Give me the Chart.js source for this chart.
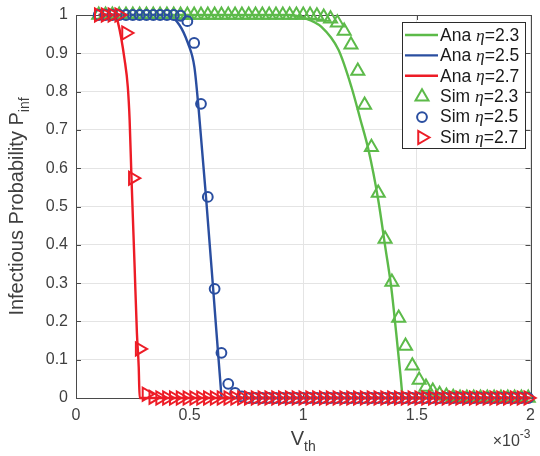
<!DOCTYPE html>
<html>
<head>
<meta charset="utf-8">
<script src="https://cdn.jsdelivr.net/npm/chart.js@4.4.1/dist/chart.umd.min.js"></script>
<style>
  html, body { margin: 0; padding: 0; background: #fff; }
  #wrap { width: 540px; height: 456px; }
</style>
</head>
<body>
<div id="wrap"><canvas id="chart" width="540" height="456"></canvas></div>
<script>
// V_th is kept in units of 1e-3 (axis carries the x10^-3 multiplier)
const xTicks = [0, 0.5, 1, 1.5, 2];
const yTicks = [0, 0.1, 0.2, 0.3, 0.4, 0.5, 0.6, 0.7, 0.8, 0.9, 1];

// analytical curves
const anaX23 = [0.1, 0.94, 1.0, 1.08, 1.155, 1.212, 1.252, 1.287, 1.33, 1.361, 1.387, 1.409, 1.427, 1.44, 2.0];
const anaP23 = [1, 1, 0.993, 0.969, 0.909, 0.812, 0.726, 0.648, 0.517, 0.394, 0.29, 0.17, 0.065, 0, 0];
const anaX25 = [0.1, 0.4, 0.455, 0.492, 0.521, 0.54, 0.572, 0.605, 0.638, 0.641, 2.0];
const anaP25 = [1, 1, 0.974, 0.927, 0.864, 0.752, 0.525, 0.274, 0.02, 0, 0];
const anaX27 = [0.1, 0.17, 0.184, 0.214, 0.228, 0.236, 0.244, 0.258, 0.268, 0.276, 0.28, 2.0];
const anaP27 = [1, 1, 0.982, 0.883, 0.812, 0.726, 0.577, 0.342, 0.17, 0.081, 0, 0];

// simulation grid and results
const simX = [0.10, 0.13, 0.16, 0.19, 0.22, 0.25, 0.28, 0.31, 0.34, 0.37, 0.40, 0.43, 0.46, 0.49, 0.52, 0.55,
  0.58, 0.61, 0.64, 0.67, 0.70, 0.73, 0.76, 0.79, 0.82, 0.85, 0.88, 0.91, 0.94, 0.97, 1.00, 1.03,
  1.06, 1.09, 1.12, 1.15, 1.18, 1.21, 1.24, 1.27, 1.30, 1.33, 1.36, 1.39, 1.42, 1.45, 1.48, 1.51,
  1.54, 1.57, 1.60, 1.63, 1.66, 1.69, 1.72, 1.75, 1.78, 1.81, 1.84, 1.87, 1.90, 1.93, 1.96, 1.99];
const simP23 = [1, 1, 1, 1, 1, 1, 1, 1, 1, 1, 1, 1, 1, 1, 1, 1,
  1, 1, 1, 1, 1, 1, 1, 1, 1, 1, 1, 1, 1, 1, 1, 1,
  0.998, 0.995, 0.99, 0.98, 0.958, 0.922, 0.854, 0.765, 0.655, 0.535, 0.415, 0.303, 0.209, 0.136, 0.084, 0.047,
  0.029, 0.018, 0.01, 0.005, 0.002, 0, 0, 0, 0, 0, 0, 0, 0, 0, 0, 0];
const simP25 = [1, 1, 1, 1, 1, 1, 1, 1, 1, 1, 1, 1, 0.998, 0.984, 0.927, 0.768,
  0.525, 0.285, 0.118, 0.037, 0.013, 0.004, 0, 0, 0, 0, 0, 0, 0, 0, 0, 0,
  0, 0, 0, 0, 0, 0, 0, 0, 0, 0, 0, 0, 0, 0, 0, 0,
  0, 0, 0, 0, 0, 0, 0, 0, 0, 0, 0, 0, 0, 0, 0, 0];
const simP27 = [1, 1, 1, 1, 0.953, 0.574, 0.128, 0.01, 0.002, 0, 0, 0, 0, 0, 0, 0,
  0, 0, 0, 0, 0, 0, 0, 0, 0, 0, 0, 0, 0, 0, 0, 0,
  0, 0, 0, 0, 0, 0, 0, 0, 0, 0, 0, 0, 0, 0, 0, 0,
  0, 0, 0, 0, 0, 0, 0, 0, 0, 0, 0, 0, 0, 0, 0, 0];

const legendKinds = ['Ana', 'Ana', 'Ana', 'Sim', 'Sim', 'Sim'];
const legendEta = ['2.3', '2.5', '2.7', '2.3', '2.5', '2.7'];

const GREEN = '#5cba49';
const BLUE = '#2a4ea0';
const RED = '#ed1c26';
const TEXT = '#3f3f3f';
const AXIS = '#4a4a4a';
const GRID = '#e4e4e4';
const FONT = '"Liberation Sans", Arial, Helvetica, sans-serif';

const pts = (xs, ys) => xs.map((x, i) => ({ x: x, y: ys[i] }));

function anaSet(label, xs, ys, color, order) {
  return {
    label: label, data: pts(xs, ys), borderColor: color, borderWidth: 2.4,
    pointRadius: 0, cubicInterpolationMode: 'monotone', fill: false, clip: false, order: order
  };
}
function simSet(label, xs, ys, color, style, radius, rot, order) {
  return {
    label: label, data: pts(xs, ys), showLine: false, borderColor: color,
    pointStyle: style, pointRadius: radius, pointRotation: rot, pointBorderWidth: 2,
    pointBackgroundColor: 'rgba(0,0,0,0)', pointBorderColor: color, clip: false, order: order
  };
}

const datasets = [
  anaSet('Ana η=2.3', anaX23, anaP23, GREEN, 5),
  anaSet('Ana η=2.5', anaX25, anaP25, BLUE, 4),
  anaSet('Ana η=2.7', anaX27, anaP27, RED, 3),
  simSet('Sim η=2.3', simX, simP23, GREEN, 'triangle', 7.5, 0, 2),
  simSet('Sim η=2.5', simX, simP25, BLUE, 'circle', 4.9, 0, 1),
  simSet('Sim η=2.7', simX, simP27, RED, 'triangle', 7.5, 90, 0)
];

function marker(ctx, style, rot, r, x, y) {
  ctx.beginPath();
  if (style === 'circle') {
    ctx.arc(x, y, r, 0, Math.PI * 2);
  } else {
    let a = rot * Math.PI / 180;
    for (let k = 0; k < 3; k++) {
      const px = x + Math.sin(a) * r, py = y - Math.cos(a) * r;
      if (k === 0) ctx.moveTo(px, py); else ctx.lineTo(px, py);
      a += 2 * Math.PI / 3;
    }
    ctx.closePath();
  }
  ctx.stroke();
}

// text with a lowered / raised small part
function drawSubText(ctx, main, small, x, y, size, shift, align) {
  ctx.font = size + 'px ' + FONT;
  const w1 = ctx.measureText(main).width;
  ctx.font = Math.round(size * 0.72) + 'px ' + FONT;
  const w2 = ctx.measureText(small).width;
  let x0 = x;
  if (align === 'center') x0 = x - (w1 + w2) / 2;
  if (align === 'right') x0 = x - (w1 + w2);
  ctx.textAlign = 'left';
  ctx.textBaseline = 'alphabetic';
  ctx.font = size + 'px ' + FONT;
  ctx.fillText(main, x0, y);
  ctx.font = Math.round(size * 0.72) + 'px ' + FONT;
  ctx.fillText(small, x0 + w1, y + shift);
}

const framePlugin = {
  id: 'frame',
  beforeDatasetsDraw(chart) {
    const { ctx, chartArea: a, scales } = chart;
    ctx.save();
    ctx.strokeStyle = AXIS;
    ctx.lineWidth = 1;
    ctx.strokeRect(Math.round(a.left) + 0.5, Math.round(a.top) + 0.5,
      Math.round(a.right - a.left), Math.round(a.bottom - a.top));
    ctx.beginPath();
    xTicks.forEach(v => {
      const px = Math.round(scales.x.getPixelForValue(v)) + 0.5;
      ctx.moveTo(px, a.bottom); ctx.lineTo(px, a.bottom - 5);
      ctx.moveTo(px, a.top); ctx.lineTo(px, a.top + 5);
    });
    yTicks.forEach(v => {
      const py = Math.round(scales.y.getPixelForValue(v)) + 0.5;
      ctx.moveTo(a.left, py); ctx.lineTo(a.left + 5, py);
      ctx.moveTo(a.right, py); ctx.lineTo(a.right - 5, py);
    });
    ctx.stroke();
    ctx.restore();
  },
  afterDraw(chart) {
    const { ctx, chartArea: a } = chart;
    ctx.save();
    ctx.fillStyle = TEXT;
    // x title V_th
    drawSubText(ctx, 'V', 'th', (a.left + a.right) / 2, 445, 20, 6, 'center');
    // multiplier
    drawSubText(ctx, '×10', '-3', a.right, 446, 16, -8, 'right');
    // y title
    ctx.translate(23, (a.top + a.bottom) / 2);
    ctx.rotate(-Math.PI / 2);
    drawSubText(ctx, 'Infectious Probability P', 'inf', 0, 0, 20, 6, 'center');
    ctx.restore();

    // legend box
    const bx = 402, by = 22, bw = 123, bh = 126;
    ctx.save();
    ctx.fillStyle = '#fff';
    ctx.fillRect(bx, by, bw, bh);
    ctx.strokeStyle = '#2b2b2b';
    ctx.lineWidth = 1;
    ctx.strokeRect(bx + 0.5, by + 0.5, bw, bh);
    chart.data.datasets.forEach((ds, i) => {
      const y = by + 13 + i * 20.4;
      ctx.strokeStyle = ds.borderColor;
      if (legendKinds[i] === 'Ana') {
        ctx.lineWidth = 2.4;
        ctx.beginPath();
        ctx.moveTo(405, y); ctx.lineTo(438, y);
        ctx.stroke();
      } else {
        ctx.lineWidth = 2;
        marker(ctx, ds.pointStyle, ds.pointRotation, ds.pointRadius, 422, y + 0.5);
      }
      ctx.fillStyle = '#1a1a1a';
      ctx.textBaseline = 'middle';
      ctx.textAlign = 'left';
      let tx = 440;
      ctx.font = '17.5px ' + FONT;
      const t1 = legendKinds[i] + ' ';
      ctx.fillText(t1, tx, y + 1);
      tx += ctx.measureText(t1).width;
      ctx.font = 'italic 17.5px "Liberation Serif", "DejaVu Serif", serif';
      ctx.fillText('η', tx, y + 1);
      tx += ctx.measureText('η').width;
      ctx.font = '17.5px ' + FONT;
      ctx.fillText('=' + legendEta[i], tx, y + 1);
    });
    ctx.restore();
  }
};

new Chart(document.getElementById('chart'), {
  type: 'line',
  data: { datasets: datasets },
  plugins: [framePlugin],
  options: {
    responsive: false,
    animation: false,
    layout: { padding: { top: 15, right: 7, left: 0, bottom: 0 } },
    plugins: { legend: { display: false }, tooltip: { enabled: false } },
    scales: {
      x: {
        type: 'linear', min: 0, max: 2,
        afterBuildTicks: s => { s.ticks = xTicks.map(v => ({ value: v })); },
        afterFit: s => { s.height = 58; s.paddingLeft = 0; s.paddingRight = 0; },
        grid: { color: GRID, drawTicks: false },
        border: { display: false },
        ticks: {
          padding: 8, color: TEXT, maxRotation: 0, autoSkip: false,
          font: { family: FONT, size: 16 },
          callback: v => String(v)
        }
      },
      y: {
        type: 'linear', min: 0, max: 1,
        afterBuildTicks: s => { s.ticks = yTicks.map(v => ({ value: v })); },
        afterFit: s => { s.width = 76; s.paddingTop = 0; s.paddingBottom = 0; },
        grid: { color: GRID, drawTicks: false },
        border: { display: false },
        ticks: {
          padding: 8, color: TEXT, autoSkip: false,
          font: { family: FONT, size: 16 },
          callback: v => String(Math.round(v * 10) / 10)
        }
      }
    }
  }
});
</script>
</body>
</html>
